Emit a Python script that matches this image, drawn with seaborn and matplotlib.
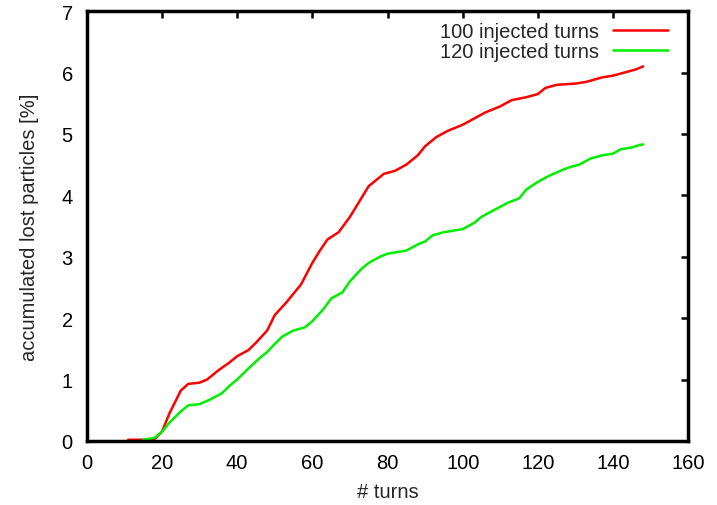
import numpy as np
import pandas as pd
import matplotlib
matplotlib.use("Agg")
import matplotlib.pyplot as plt
import seaborn as sns

red_x = [11, 15, 18, 20, 22, 25, 27, 30, 32, 35, 38, 40, 43, 45, 48, 50, 53, 55, 57, 60,
         62, 64, 67, 70, 73, 75, 77, 79, 82, 85, 88, 90, 93, 96, 100, 103, 106, 110, 113,
         117, 120, 122, 125, 130, 133, 137, 140, 143, 146, 148]
red_y = [0.02, 0.02, 0.03, 0.15, 0.45, 0.82, 0.93, 0.95, 1.0, 1.15, 1.28, 1.38, 1.48, 1.6,
         1.8, 2.05, 2.25, 2.4, 2.55, 2.9, 3.1, 3.28, 3.4, 3.65, 3.95, 4.15, 4.25, 4.35, 4.4,
         4.5, 4.65, 4.8, 4.95, 5.05, 5.15, 5.25, 5.35, 5.45, 5.55, 5.6, 5.65, 5.75, 5.8,
         5.82, 5.85, 5.92, 5.95, 6.0, 6.05, 6.1]

green_x = [15, 18, 20, 22, 25, 27, 30, 33, 36, 38, 40, 43, 46, 48, 50, 52, 55, 58, 60, 63,
           65, 68, 70, 73, 75, 78, 80, 85, 88, 90, 92, 95, 100, 103, 105, 108, 112, 115,
           117, 120, 123, 126, 128, 131, 134, 137, 140, 142, 145, 147, 148]
green_y = [0.02, 0.05, 0.15, 0.3, 0.48, 0.58, 0.6, 0.68, 0.78, 0.9, 1.0, 1.18, 1.35, 1.45,
           1.58, 1.7, 1.8, 1.85, 1.95, 2.15, 2.32, 2.42, 2.6, 2.8, 2.9, 3.0, 3.05, 3.1, 3.2,
           3.25, 3.35, 3.4, 3.45, 3.55, 3.65, 3.75, 3.88, 3.95, 4.1, 4.22, 4.32, 4.4, 4.45,
           4.5, 4.6, 4.65, 4.68, 4.75, 4.78, 4.82, 4.83]

series_names = ["100 injected turns", "120 injected turns"]
colors = ["#ff0000", "#00ee00"]

df = pd.concat([
    pd.DataFrame({"turns": red_x, "lost": red_y, "series": series_names[0]}),
    pd.DataFrame({"turns": green_x, "lost": green_y, "series": series_names[1]}),
])

sns.set_style("white")
plt.rcParams["font.family"] = ["Liberation Sans", "DejaVu Sans"]

fs = 14.5
fig = plt.figure(figsize=(7.17, 5.06), dpi=100)
ax = fig.add_axes([0.121, 0.1265, 0.839, 0.8495])
sns.lineplot(data=df, x="turns", y="lost", hue="series", palette=colors,
             linewidth=1.8, ax=ax, sort=False, estimator=None)

ax.set_xlim(0, 160)
ax.set_ylim(0, 7)
ax.set_xticks(np.arange(0, 161, 20))
ax.set_yticks(np.arange(0, 8, 1))
ax.tick_params(direction="in", length=5, width=1.8, top=True, right=True,
               labelsize=fs, colors="black")
ax.tick_params(axis="x", pad=9)
ax.tick_params(axis="y", pad=10)
for s in ax.spines.values():
    s.set_linewidth(2.5)
    s.set_color("black")
ax.set_xlabel("# turns", fontsize=fs, labelpad=7)
ax.set_ylabel("accumulated lost particles [%]", fontsize=fs, labelpad=16)
leg = ax.legend(loc="upper right", bbox_to_anchor=(0.9667, 0.974), frameon=False,
                markerfirst=False, fontsize=fs, handlelength=2.75, handletextpad=0.7,
                borderaxespad=0, borderpad=0, labelspacing=0.05)
fig.savefig("out.png", dpi=100)
